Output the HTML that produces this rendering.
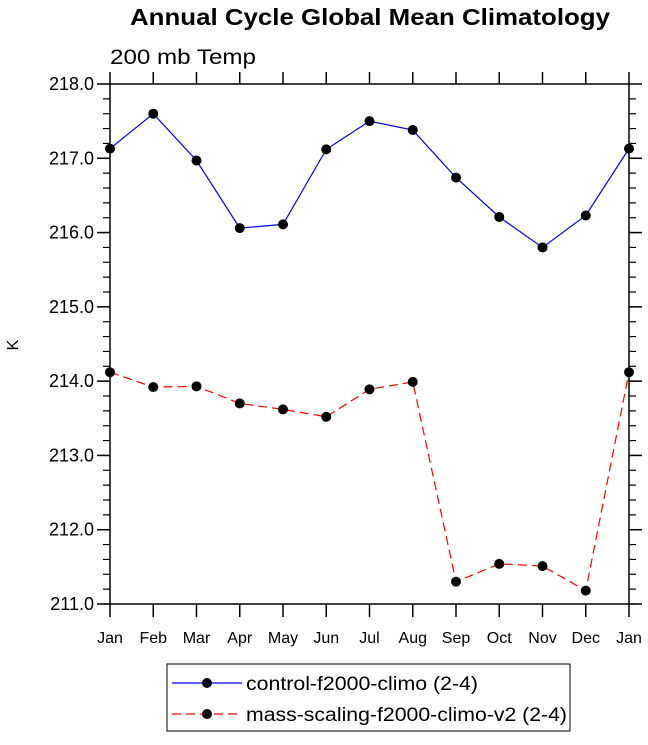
<!DOCTYPE html>
<html><head><meta charset="utf-8"><style>
html,body{margin:0;padding:0;background:#fff;}
svg text{font-family:"Liberation Sans",Helvetica,Arial,sans-serif;}
</style></head><body>
<svg id="chart" width="648" height="740" xmlns="http://www.w3.org/2000/svg">
<text x="370" y="25" text-anchor="middle" font-size="23" font-weight="bold" textLength="480" lengthAdjust="spacingAndGlyphs">Annual Cycle Global Mean Climatology</text>
<text x="110" y="64" font-size="21" textLength="146" lengthAdjust="spacingAndGlyphs">200 mb Temp</text>
<text x="18" y="345" font-size="16" text-anchor="middle" transform="rotate(-90 18 345)">K</text>
<g id="axes"></g><g id="series"></g>
<rect x="167" y="664" width="403" height="67" fill="none" stroke="#000" stroke-width="1"/>
<g>
<line x1="172" y1="683" x2="242" y2="683" stroke="#0000ff" stroke-width="1.2"/>
<circle cx="207" cy="683" r="5" fill="#000"/>
<text x="246" y="690" font-size="19" textLength="232" lengthAdjust="spacingAndGlyphs">control-f2000-climo (2-4)</text></g>
<g>
<line x1="172" y1="714" x2="242" y2="714" stroke="#ff0000" stroke-width="1.2" stroke-dasharray="9,5"/>
<circle cx="207" cy="714" r="5" fill="#000"/>
<text x="246" y="721" font-size="19" textLength="321" lengthAdjust="spacingAndGlyphs">mass-scaling-f2000-climo-v2 (2-4)</text></g>
</svg>
<script>
const months=["Jan","Feb","Mar","Apr","May","Jun","Jul","Aug","Sep","Oct","Nov","Dec","Jan"];
const controlVals=[217.13,217.60,216.97,216.06,216.11,217.12,217.50,217.38,216.74,216.21,215.80,216.23,217.13];
const massVals=[214.12,213.92,213.93,213.70,213.62,213.52,213.89,213.99,211.30,211.54,211.51,211.18,214.12];
const yTicks=[211,212,213,214,215,216,217,218];
const X0=110,X1=629,Y0=84,Y1=604,ymin=211,ymax=218;
const NS="http://www.w3.org/2000/svg";
function xs(i){return X0+(X1-X0)*i/(months.length-1);}
function ys(v){return Y1-(v-ymin)/(ymax-ymin)*(Y1-Y0);}
function mk(tag,attrs,parent){const e=document.createElementNS(NS,tag);for(const k in attrs)e.setAttribute(k,attrs[k]);parent.appendChild(e);return e;}
const ax=document.getElementById('axes');
const frame=mk('rect',{x:X0,y:Y0,width:X1-X0,height:Y1-Y0,fill:'none',stroke:'#000','stroke-width':1.5},ax);


months.forEach((m,i)=>{
  const x=xs(i);
  mk('line',{x1:x,y1:Y1,x2:x,y2:Y1+13,stroke:'#000','stroke-width':1.5},ax);
  mk('line',{x1:x,y1:Y0,x2:x,y2:Y0-12,stroke:'#000','stroke-width':1.5},ax);
  const t=mk('text',{x:x,y:643,'text-anchor':'middle','font-size':16},ax);
  t.textContent=m;
  
  
});
yTicks.forEach(v=>{
  const y=ys(v);
  mk('line',{x1:X0-13,y1:y,x2:X0,y2:y,stroke:'#000','stroke-width':1.5},ax);
  mk('line',{x1:X1,y1:y,x2:X1+13,y2:y,stroke:'#000','stroke-width':1.5},ax);
  const t=mk('text',{x:X0-16,y:y+6,'text-anchor':'end','font-size':18},ax);
  t.textContent=v.toFixed(1);
  
  
});
for(let v=ymin;v<ymax-0.01;v+=0.2){
  const y=ys(v);
  mk('line',{x1:X0-7,y1:y,x2:X0,y2:y,stroke:'#000','stroke-width':1.2},ax);
  mk('line',{x1:X1,y1:y,x2:X1+7,y2:y,stroke:'#000','stroke-width':1.2},ax);
}
const sg=document.getElementById('series');
function drawSeries(vals,color,dash,name){
  const g=mk('g',{},sg);
  
  
  const pts=vals.map((v,i)=>xs(i)+','+ys(v)).join(' ');
  const pl=mk('polyline',{points:pts,fill:'none',stroke:color,'stroke-width':1.2},g);
  if(dash)pl.setAttribute('stroke-dasharray',dash);
  
  
  vals.forEach((v,i)=>{
    const c=mk('circle',{cx:xs(i),cy:ys(v),r:5,fill:'#000'},g);
    
    
  });
}
drawSeries(controlVals,'#0000ff',null,'control-series');
drawSeries(massVals,'#ff0000','9,5','mass-scaling-series');
</script>
</body></html>
